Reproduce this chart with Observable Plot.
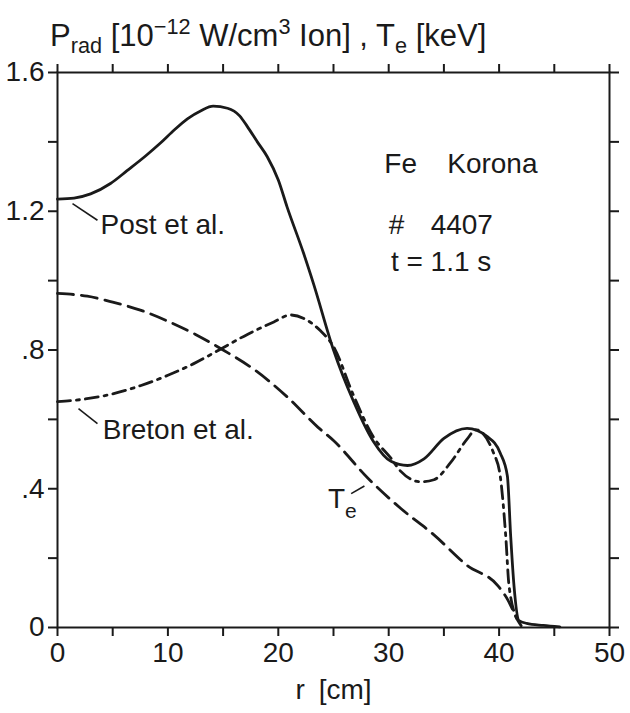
<!DOCTYPE html>
<html>
<head>
<meta charset="utf-8">
<script src="https://cdn.jsdelivr.net/npm/d3@7"></script>
<script src="https://cdn.jsdelivr.net/npm/@observablehq/plot@0.6"></script>
<style>
  html, body { margin: 0; padding: 0; background: #fff; }
  #wrap { position: relative; width: 630px; height: 713px; overflow: hidden; }
  #title {
    position: absolute; left: 50px; top: 20px;
    font-family: "Liberation Sans", Arial, sans-serif; font-size: 31px; line-height: 31px;
    color: #1a1a1a; white-space: nowrap;
  }
  #title sub, #title sup { font-size: 0.7em; line-height: 0; }
  #title sub { vertical-align: -0.32em; }
  #title sup { vertical-align: 0.55em; }
</style>
</head>
<body>
<div id="wrap">
  <div id="title">P<sub>rad</sub> [10<sup>−12</sup> W/cm<sup>3</sup> Ion] , T<sub>e</sub> [keV]</div>
</div>
<script>
// ---- data ----
const postR = [0, 1.5, 3, 4.8, 6.3, 8, 9.3, 10.6, 11.8, 13, 14.1, 15.4, 16.5, 17.2, 18.1, 19.0, 20, 20.8, 22.3, 23.2, 25.0, 26.8, 28.6, 30.2, 31.7, 33.2, 35.0, 37.1, 38.9, 40.1, 40.75, 41.05, 41.35, 41.8, 42.5, 44, 45.5];
const postP = [1.235, 1.238, 1.25, 1.28, 1.317, 1.36, 1.396, 1.435, 1.467, 1.49, 1.503, 1.497, 1.475, 1.444, 1.40, 1.357, 1.29, 1.212, 1.078, 0.99, 0.80, 0.653, 0.537, 0.479, 0.467, 0.486, 0.545, 0.574, 0.551, 0.503, 0.437, 0.263, 0.12, 0.02, 0.012, 0.006, 0.002];

const bretonR = [0, 2.1, 4.8, 7.5, 10.0, 12.3, 14.8, 17.2, 19.6, 21.1, 22.6, 23.8, 25.0, 26.8, 28.6, 30.2, 31.1, 32.9, 34.1, 35.6, 37.1, 37.9, 39.5, 40.1, 40.6, 40.9, 41.7];
const bretonP = [0.651, 0.657, 0.672, 0.697, 0.727, 0.76, 0.803, 0.845, 0.881, 0.901, 0.886, 0.856, 0.81, 0.67, 0.55, 0.488, 0.45, 0.42, 0.426, 0.475, 0.543, 0.57, 0.503, 0.437, 0.264, 0.12, 0.02];

const teR = [0, 2.7, 5.0, 7.5, 10.0, 12.5, 15.0, 17.8, 20.8, 23.6, 25.0, 28.1, 31.1, 34.1, 37.1, 39.9, 40.8, 41.7, 42.0];
const teT = [0.963, 0.955, 0.938, 0.915, 0.883, 0.845, 0.80, 0.744, 0.665, 0.577, 0.539, 0.431, 0.343, 0.267, 0.179, 0.12, 0.079, 0.02, 0.005];

const xTicks = [0, 5, 10, 15, 20, 25, 30, 35, 40, 45, 50];
const xTickLabels = ["0", "", "10", "", "20", "", "30", "", "40", "", "50"];
const yTicks = [0, 0.2, 0.4, 0.6, 0.8, 1.0, 1.2, 1.4, 1.6];
const yTickLabels = ["0", "", ".4", "", ".8", "", "1.2", "", "1.6"];

// annotations (data units)
const noteText = ["Fe", "Korona", "#", "4407", "t = 1.1 s", "Post et al.", "Breton et al.", "T"];
const noteX    = [29.6, 35.3, 30.0, 33.8, 30.2, 3.9, 4.1, 24.5];
const noteY    = [1.309, 1.309, 1.133, 1.133, 1.027, 1.134, 0.543, 0.345];
const subText = ["e"];
const subX = [26.05];
const subY = [0.316];
const leadX1 = [1.36, 1.9, 26.6];
const leadY1 = [1.222, 0.631, 0.386];
const leadX2 = [3.62, 3.62, 27.8];
const leadY2 = [1.174, 0.588, 0.408];

// ---- build tables ----
const ink = "#1a1a1a";
const post = postR.map((r, i) => ({r, v: postP[i]}));
const breton = bretonR.map((r, i) => ({r, v: bretonP[i]}));
const te = teR.map((r, i) => ({r, v: teT[i]}));
const notes = noteText.map((t, i) => ({t, x: noteX[i], y: noteY[i]}));
const subs = subText.map((t, i) => ({t, x: subX[i], y: subY[i]}));
const leads = leadX1.map((x, i) => ({x1: x, y1: leadY1[i], x2: leadX2[i], y2: leadY2[i]}));
const xLab = new Map(xTicks.map((t, i) => [t, xTickLabels[i]]));
const yLab = new Map(yTicks.map((t, i) => [t, yTickLabels[i]]));

const font = "Liberation Sans";
const chart = Plot.plot({
  width: 630, height: 713,
  marginLeft: 57, marginRight: 21, marginTop: 72, marginBottom: 86,
  style: {fontFamily: font, color: ink, background: "white"},
  x: {domain: [0, 50]},
  y: {domain: [0, 1.6]},
  marks: [
    Plot.frame({stroke: ink, strokeWidth: 2}),
    Plot.axisX({anchor: "bottom", ticks: xTicks, tickSize: 9, tickPadding: 6, strokeWidth: 2,
      tickFormat: d => xLab.get(d) ?? "", fontSize: 28, fontFamily: font, label: null}),
    Plot.axisX({anchor: "top", ticks: xTicks, tickSize: 9, strokeWidth: 2,
      tickFormat: () => "", label: null}),
    Plot.axisY({anchor: "left", ticks: yTicks, tickSize: 9, tickPadding: 4, strokeWidth: 2,
      tickFormat: d => yLab.get(d) ?? "", fontSize: 28, fontFamily: font, label: null}),
    Plot.axisY({anchor: "right", ticks: yTicks, tickSize: 9, strokeWidth: 2,
      tickFormat: () => "", label: null}),
    Plot.line(te, {x: "r", y: "v", stroke: ink, strokeWidth: 2.8, strokeDasharray: "16,8", curve: "monotone-x"}),
    Plot.line(breton, {x: "r", y: "v", stroke: ink, strokeWidth: 2.8, strokeDasharray: "13,6,3,6", curve: "monotone-x"}),
    Plot.line(post, {x: "r", y: "v", stroke: ink, strokeWidth: 2.8, curve: "monotone-x"}),
    Plot.link(leads, {x1: "x1", y1: "y1", x2: "x2", y2: "y2", stroke: ink, strokeWidth: 1.6}),
    Plot.text(notes, {x: "x", y: "y", text: "t", textAnchor: "start", lineAnchor: "bottom", fontSize: 28, fill: ink}),
    Plot.text(subs, {x: "x", y: "y", text: "t", textAnchor: "start", lineAnchor: "bottom", fontSize: 21, fill: ink}),
    Plot.text(["r\u2002[cm]"], {text: d => d, frameAnchor: "bottom", dy: 63, lineAnchor: "middle", fontSize: 28, fill: ink})
  ]
});
document.getElementById("wrap").prepend(chart);
</script>
</body>
</html>
